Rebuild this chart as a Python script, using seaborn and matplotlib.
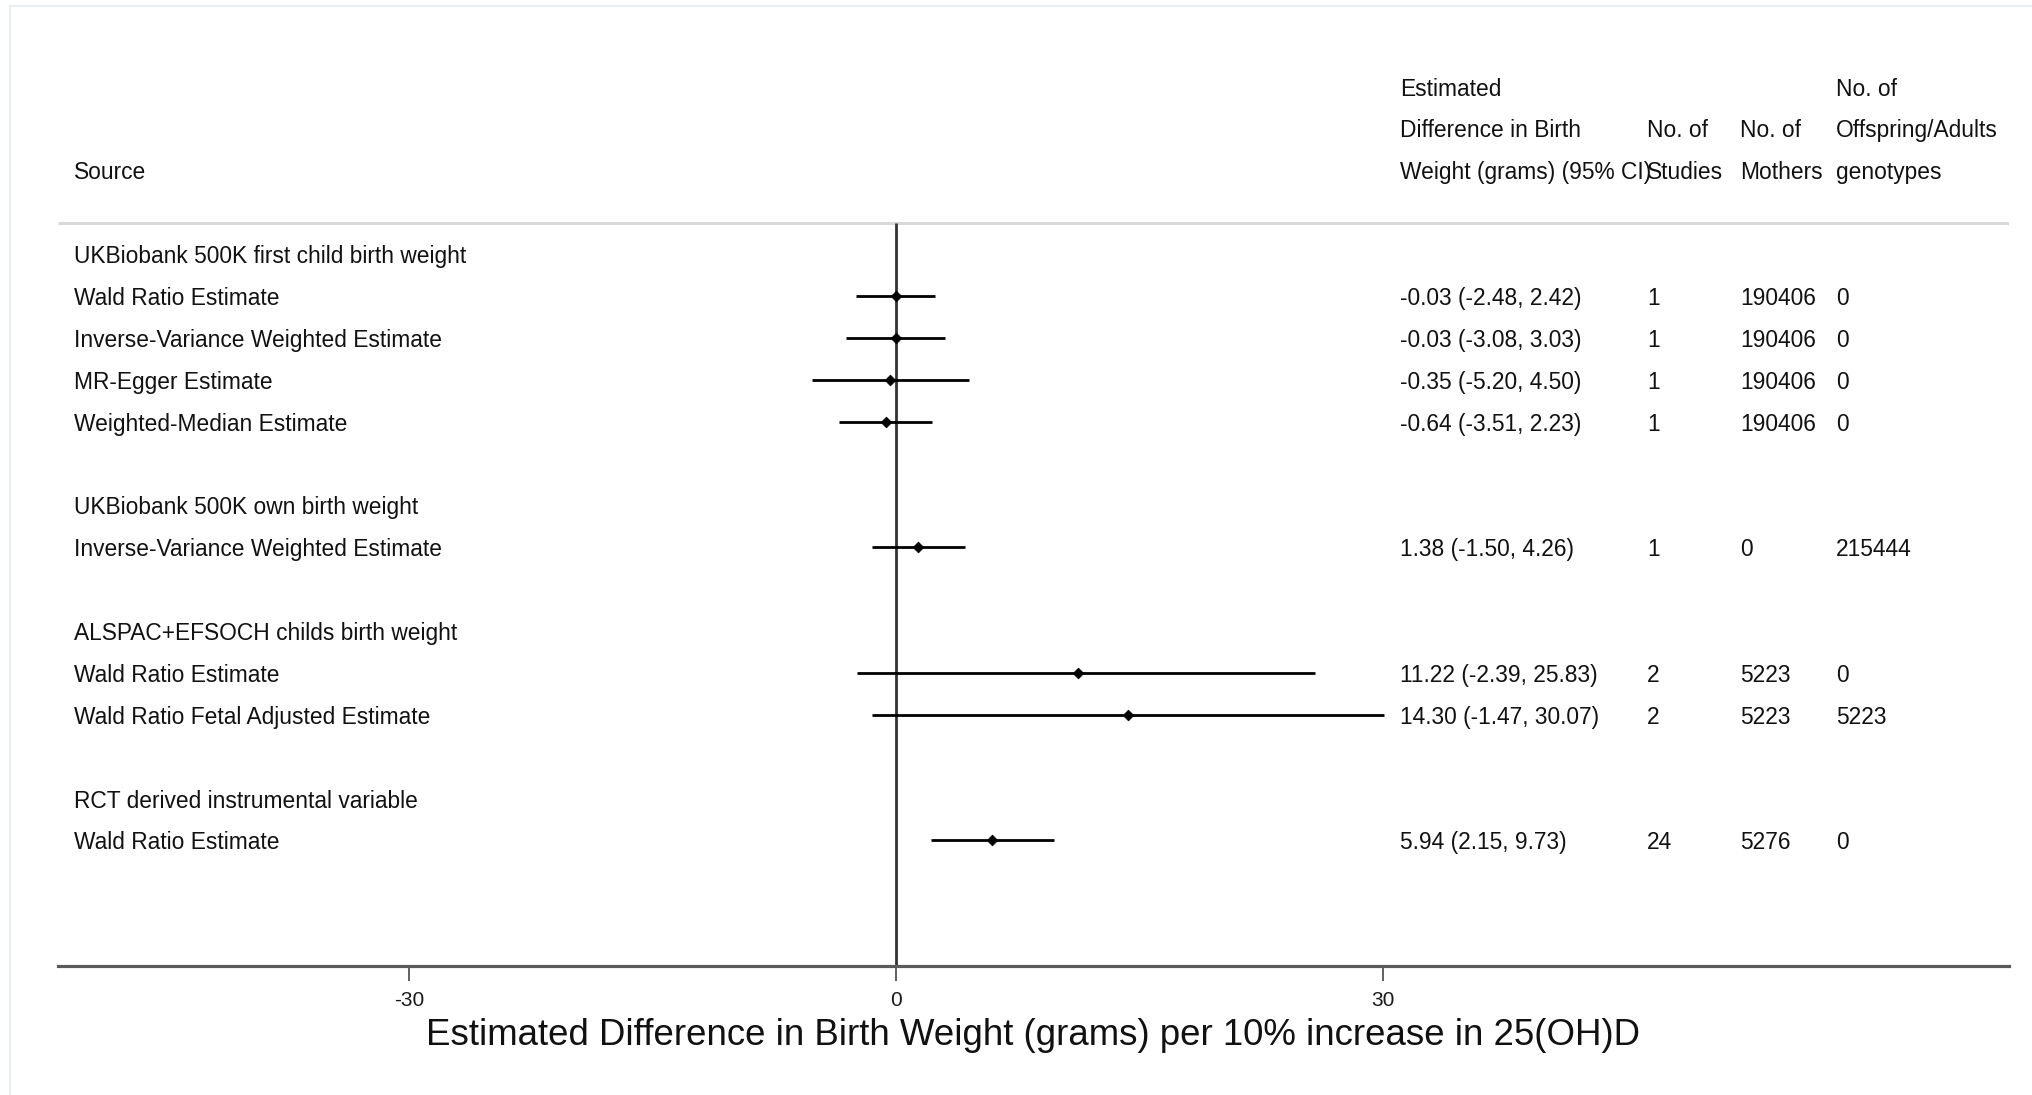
import numpy as np
import pandas as pd
import matplotlib
matplotlib.use("Agg")
import matplotlib.pyplot as plt
from matplotlib.lines import Line2D
import seaborn as sns

# rows of the forest plot, top to bottom ("" = spacer row)
row_labels = [
    "UKBiobank 500K first child birth weight",
    "Wald Ratio Estimate",
    "Inverse-Variance Weighted Estimate",
    "MR-Egger Estimate",
    "Weighted-Median Estimate",
    "",
    "UKBiobank 500K own birth weight",
    "Inverse-Variance Weighted Estimate",
    "",
    "ALSPAC+EFSOCH childs birth weight",
    "Wald Ratio Estimate",
    "Wald Ratio Fetal Adjusted Estimate",
    "",
    "RCT derived instrumental variable",
    "Wald Ratio Estimate",
]
nan = np.nan
estimate = [nan, -0.03, -0.03, -0.35, -0.64, nan, nan, 1.38, nan, nan, 11.22, 14.30, nan, nan, 5.94]
ci_low = [nan, -2.48, -3.08, -5.20, -3.51, nan, nan, -1.50, nan, nan, -2.39, -1.47, nan, nan, 2.15]
ci_high = [nan, 2.42, 3.03, 4.50, 2.23, nan, nan, 4.26, nan, nan, 25.83, 30.07, nan, nan, 9.73]
n_studies = ["", "1", "1", "1", "1", "", "", "1", "", "", "2", "2", "", "", "24"]
n_mothers = ["", "190406", "190406", "190406", "190406", "", "", "0", "", "", "5223", "5223", "", "", "5276"]
n_offspring = ["", "0", "0", "0", "0", "", "", "215444", "", "", "0", "5223", "", "", "0"]

header_est = ["Estimated", "Difference in Birth", "Weight (grams) (95% CI)"]
header_studies = ["", "No. of", "Studies"]
header_mothers = ["", "No. of", "Mothers"]
header_offspring = ["No. of", "Offspring/Adults", "genotypes"]

x_ticks = [-30, 0, 30]
x_label = "Estimated Difference in Birth Weight (grams) per 10% increase in 25(OH)D"

df = pd.DataFrame({"label": row_labels, "est": estimate, "lo": ci_low, "hi": ci_high,
                   "studies": n_studies, "mothers": n_mothers, "offspring": n_offspring})
df["row"] = np.arange(len(df))
est_df = df.dropna(subset=["est"])

sns.set_theme(style="white")
plt.rcParams["font.family"] = ["Liberation Sans", "DejaVu Sans"]

W, H = 2033, 1095
fig = plt.figure(figsize=(W / 100, H / 100), dpi=100)
# axes placed in pixels: left 58, right 2009, bottom line at 966, top at ~45
ax = fig.add_axes([58 / W, 1 - 966 / H, (2009 - 58) / W, (966 - 44.7) / H])

xmin, xmax = -51.62, 68.56
ax.set_xlim(xmin, xmax)
ax.set_ylim(17, -5)

txt = dict(fontsize=16.4, color="#111111", va="center", ha="left")
dy = 0.06  # nudge text down a touch to sit on the CI line
col_src, col_est, col_st, col_mo, col_off = -50.64, 31.05, 46.26, 51.99, 57.9

# header
ax.text(col_src, -2 + dy, "Source", **txt)
for i, (a, b, c, d) in enumerate(zip(header_est, header_studies, header_mothers, header_offspring)):
    y = -4 + i + dy
    ax.text(col_est, y, a, **txt)
    ax.text(col_st, y, b, **txt)
    ax.text(col_mo, y, c, **txt)
    ax.text(col_off, y, d, **txt)
ax.hlines(-0.74, xmin, xmax, color="#d9d9d9", lw=2.2)

# null line
ax.vlines(0, -0.74, 17, color="#333333", lw=2.0, zorder=2)

# confidence intervals + points
ax.hlines(est_df["row"], est_df["lo"], est_df["hi"], color="black", lw=2.0, zorder=3)
sns.scatterplot(data=est_df, x="est", y="row", marker="D", color="black", s=30,
                edgecolor="black", linewidth=0.5, ax=ax, zorder=4, legend=False)

# row labels and numbers
for _, r in df.iterrows():
    if r["label"]:
        ax.text(col_src, r["row"] + dy, r["label"], **txt)
for _, r in est_df.iterrows():
    y = r["row"] + dy
    ax.text(col_est, y, f"{r['est']:.2f} ({r['lo']:.2f}, {r['hi']:.2f})", **txt)
    ax.text(col_st, y, r["studies"], **txt)
    ax.text(col_mo, y, r["mothers"], **txt)
    ax.text(col_off, y, r["offspring"], **txt)

# axis styling
for s in ["top", "right", "left"]:
    ax.spines[s].set_visible(False)
ax.spines["bottom"].set_color("#5a5a5a")
ax.spines["bottom"].set_linewidth(2.3)
ax.set_yticks([])
ax.set_xticks(x_ticks)
ax.set_xticklabels([str(t) for t in x_ticks])
ax.tick_params(axis="x", direction="out", length=11, width=1.2, color="#444444",
               labelsize=15, labelcolor="#1a1a1a", pad=7, bottom=True)
ax.set_xlabel(x_label, fontsize=26.4, color="#111111", labelpad=6)
ax.set_ylabel("")
ax.grid(False)

# faint outer frame (top and left edges)
fig.add_artist(Line2D([10 / W, 1], [1 - 6 / H, 1 - 6 / H], transform=fig.transFigure,
                      color="#e8eef1", lw=1.5))
fig.add_artist(Line2D([10 / W, 10 / W], [0, 1 - 6 / H], transform=fig.transFigure,
                      color="#e8eef1", lw=1.5))

fig.savefig("out.png", dpi=100, facecolor="white")
